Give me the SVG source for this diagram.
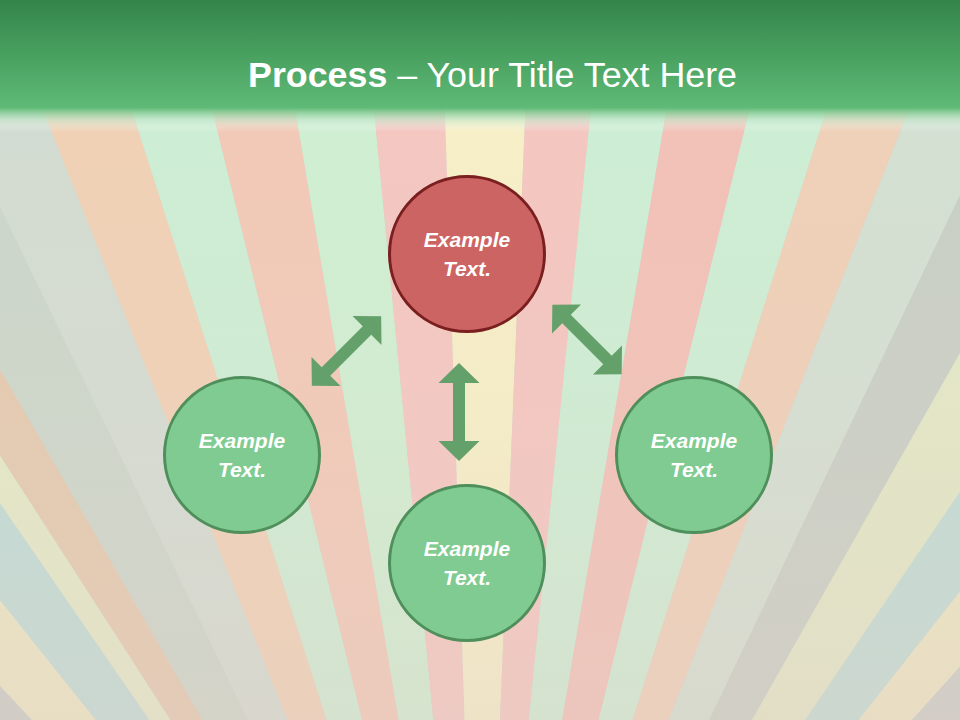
<svg xmlns="http://www.w3.org/2000/svg" xmlns:xlink="http://www.w3.org/1999/xlink" width="960" height="720" viewBox="0 0 960 720">
  <defs>
    <linearGradient id="hdr" x1="0" y1="0" x2="0" y2="1">
      <stop offset="0" stop-color="#34844a"/>
      <stop offset="0.5" stop-color="#48a05f"/>
      <stop offset="1" stop-color="#5fba77"/>
    </linearGradient>
    <linearGradient id="hdrfade" x1="0" y1="0" x2="0" y2="1">
      <stop offset="0" stop-color="#63bc79" stop-opacity="1"/>
      <stop offset="0.45" stop-color="#b9e2c2" stop-opacity="0.7"/>
      <stop offset="1" stop-color="#ffffff" stop-opacity="0"/>
    </linearGradient>
    <linearGradient id="haze" x1="0" y1="0" x2="0" y2="1">
      <stop offset="0" stop-color="#e6d2c8" stop-opacity="0"/>
      <stop offset="0.45" stop-color="#e6d2c8" stop-opacity="0.12"/>
      <stop offset="1" stop-color="#e2cfc6" stop-opacity="0.38"/>
    </linearGradient>
    <path id="dblarrow" d="M0,-49 L20.5,-29 L6,-29 L6,29 L20.5,29 L0,49 L-20.5,29 L-6,29 L-6,-29 L-20.5,-29 Z"/>
  </defs>
  <style>
    .node-g { fill: #80cb91; stroke: #4e8f5b; stroke-width: 3; }
    .node-r { fill: #cd6464; stroke: #7a1f1f; stroke-width: 3; }
    .lbl { font-family: "Liberation Sans", Arial, sans-serif; font-size: 21px; font-weight: bold; font-style: italic; fill: #ffffff; text-anchor: middle; }
    .arrow { fill: #63a06a; }
  </style>

  <!-- background sunburst -->
  <g id="background">
    <rect x="0" y="0" width="960" height="720" fill="#cfd5cd"/>
    <polygon points="480,1200 -2500,-600 -1200,-600" fill="#c8cbc5"/>
    <polygon points="480,1200 -1200,-600 -960,-600" fill="#ebe7c3"/>
    <polygon points="480,1200 -960,-600 -760,-600" fill="#bddcd6"/>
    <polygon points="480,1200 -760,-600 -680,-600" fill="#e3eac7"/>
    <polygon points="480,1200 -680,-600 -560,-600" fill="#e3c9ae"/>
    <polygon points="480,1200 -560,-600 -390,-600" fill="#cbd6ca"/>
    <polygon points="480,1200 -390,-600 -242,-600" fill="#d3dcd2"/>
    <polygon points="480,1200 -242,-600 -95,-600" fill="#f0d1b6"/>
    <polygon points="480,1200 -95,-600 38,-600" fill="#cdeed4"/>
    <polygon points="480,1200 38,-600 175,-600" fill="#f2c9b7"/>
    <polygon points="480,1200 175,-600 305,-600" fill="#cfefd2"/>
    <polygon points="480,1200 305,-600 422,-600" fill="#f4c7c1"/>
    <polygon points="480,1200 422,-600 555,-600" fill="#f6efc7"/>
    <polygon points="480,1200 555,-600 663,-600" fill="#f4c6c0"/>
    <polygon points="480,1200 663,-600 788,-600" fill="#cdeed4"/>
    <polygon points="480,1200 788,-600 925,-600" fill="#f2c1b7"/>
    <polygon points="480,1200 925,-600 1052,-600" fill="#cdeed4"/>
    <polygon points="480,1200 1052,-600 1188,-600" fill="#efd0b8"/>
    <polygon points="480,1200 1188,-600 1340,-600" fill="#d3e0d2"/>
    <polygon points="480,1200 1340,-600 1500,-600" fill="#c8cfc5"/>
    <polygon points="480,1200 1500,-600 1700,-600" fill="#e2e8c6"/>
    <polygon points="480,1200 1700,-600 1900,-600" fill="#bfdcd5"/>
    <polygon points="480,1200 1900,-600 2100,-600" fill="#ece6c2"/>
    <polygon points="480,1200 2100,-600 3200,-600" fill="#c9ccc6"/>
    <rect x="0" y="120" width="960" height="600" fill="url(#haze)"/>
  </g>

  <!-- header -->
  <g id="header">
    <rect x="0" y="0" width="960" height="108" fill="url(#hdr)"/>
    <rect x="0" y="108" width="960" height="24" fill="url(#hdrfade)"/>
    <text x="248" y="87" textLength="489" lengthAdjust="spacingAndGlyphs" font-family="Liberation Sans, Arial, sans-serif" font-size="35" fill="#ffffff"><tspan font-weight="bold">Process</tspan> – Your Title Text Here</text>
  </g>

  <!-- connectors -->
  <g id="connectors">
    <use xlink:href="#dblarrow" href="#dblarrow" class="arrow" transform="translate(346.5,351) rotate(45)"/>
    <use xlink:href="#dblarrow" href="#dblarrow" class="arrow" transform="translate(459,412)"/>
    <use xlink:href="#dblarrow" href="#dblarrow" class="arrow" transform="translate(587,339.5) rotate(-45)"/>
  </g>

  <!-- nodes -->
  <g id="node-top">
    <circle cx="467" cy="254" r="77.5" class="node-r"/>
    <text x="467" y="247" class="lbl">Example</text>
    <text x="467" y="276" class="lbl">Text.</text>
  </g>
  <g id="node-left">
    <circle cx="242" cy="455" r="77.5" class="node-g"/>
    <text x="242" y="448" class="lbl">Example</text>
    <text x="242" y="477" class="lbl">Text.</text>
  </g>
  <g id="node-right">
    <circle cx="694" cy="455" r="77.5" class="node-g"/>
    <text x="694" y="448" class="lbl">Example</text>
    <text x="694" y="477" class="lbl">Text.</text>
  </g>
  <g id="node-bottom">
    <circle cx="467" cy="563" r="77.5" class="node-g"/>
    <text x="467" y="556" class="lbl">Example</text>
    <text x="467" y="585" class="lbl">Text.</text>
  </g>
</svg>
